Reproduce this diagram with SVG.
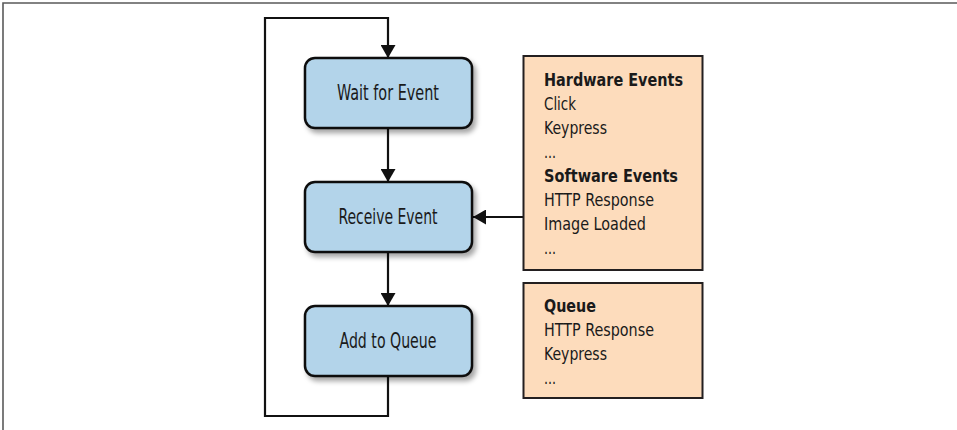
<svg xmlns="http://www.w3.org/2000/svg" width="957" height="430" viewBox="0 0 957 430">
<style>
  .frame { stroke: #5a5a5a; stroke-width: 1.6; fill: none; }
  .proc rect { fill: #b3d4ea; stroke: #111; stroke-width: 2.5; }
  .proc text { font-family: "DejaVu Sans Condensed", "Liberation Sans", sans-serif; font-stretch: condensed; font-size: 21px; fill: #1a1a1a; text-anchor: middle; }
  .note rect { fill: #fddcbc; stroke: #231f20; stroke-width: 2; }
  .note text { font-family: "DejaVu Sans Condensed", "Liberation Sans", sans-serif; font-stretch: condensed; font-size: 17.5px; fill: #1a1a1a; }
  .note .b { font-weight: bold; }
  .conn path { stroke: #111; stroke-width: 2.2; fill: none; }
</style>
<defs>
  <marker id="ah" viewBox="0 0 13 15" refX="13" refY="7.5" markerWidth="13" markerHeight="15" markerUnits="userSpaceOnUse" orient="auto">
    <path d="M0,0 L13,7.5 L0,15 z" fill="#111"/>
  </marker>
  <filter id="sh" x="-10%" y="-10%" width="125%" height="135%">
    <feDropShadow dx="3" dy="4" stdDeviation="2.5" flood-color="#000" flood-opacity="0.35"/>
  </filter>
</defs>
<rect width="957" height="430" fill="#fff"/>
<path class="frame" d="M3,430 L3,3 L957,3"/>

<g class="conn">
  <path d="M388,376 L388,416 L265,416 L265,18 L388,18 L388,58" marker-end="url(#ah)"/>
  <path d="M388,128 L388,182" marker-end="url(#ah)"/>
  <path d="M388,252 L388,306" marker-end="url(#ah)"/>
  <path d="M523,217 L473,217" marker-end="url(#ah)"/>
</g>

<g id="wait" class="proc">
  <rect x="305" y="58" width="167" height="70" rx="10" filter="url(#sh)"/>
  <text x="388" y="99.5" textLength="102" lengthAdjust="spacingAndGlyphs">Wait for Event</text>
</g>
<g id="receive" class="proc">
  <rect x="305" y="182" width="167" height="70" rx="10" filter="url(#sh)"/>
  <text x="388" y="223.5" textLength="99" lengthAdjust="spacingAndGlyphs">Receive Event</text>
</g>
<g id="addqueue" class="proc">
  <rect x="305" y="306" width="167" height="70" rx="10" filter="url(#sh)"/>
  <text x="388" y="347.5" textLength="97" lengthAdjust="spacingAndGlyphs">Add to Queue</text>
</g>

<g id="events" class="note">
  <rect x="523.5" y="56" width="179" height="214"/>
  <text x="544" y="86" class="b" textLength="139" lengthAdjust="spacingAndGlyphs">Hardware Events</text>
  <text x="544" y="110" textLength="32" lengthAdjust="spacingAndGlyphs">Click</text>
  <text x="544" y="134" textLength="63" lengthAdjust="spacingAndGlyphs">Keypress</text>
  <text x="544" y="158" textLength="12" lengthAdjust="spacingAndGlyphs">...</text>
  <text x="544" y="182" class="b" textLength="134" lengthAdjust="spacingAndGlyphs">Software Events</text>
  <text x="544" y="206" textLength="110" lengthAdjust="spacingAndGlyphs">HTTP Response</text>
  <text x="544" y="230" textLength="102" lengthAdjust="spacingAndGlyphs">Image Loaded</text>
  <text x="544" y="254" textLength="12" lengthAdjust="spacingAndGlyphs">...</text>
</g>

<g id="queue" class="note">
  <rect x="523.5" y="283" width="179" height="115"/>
  <text x="544" y="312" class="b" textLength="52" lengthAdjust="spacingAndGlyphs">Queue</text>
  <text x="544" y="336" textLength="110" lengthAdjust="spacingAndGlyphs">HTTP Response</text>
  <text x="544" y="360" textLength="63" lengthAdjust="spacingAndGlyphs">Keypress</text>
  <text x="544" y="384" textLength="12" lengthAdjust="spacingAndGlyphs">...</text>
</g>
</svg>
